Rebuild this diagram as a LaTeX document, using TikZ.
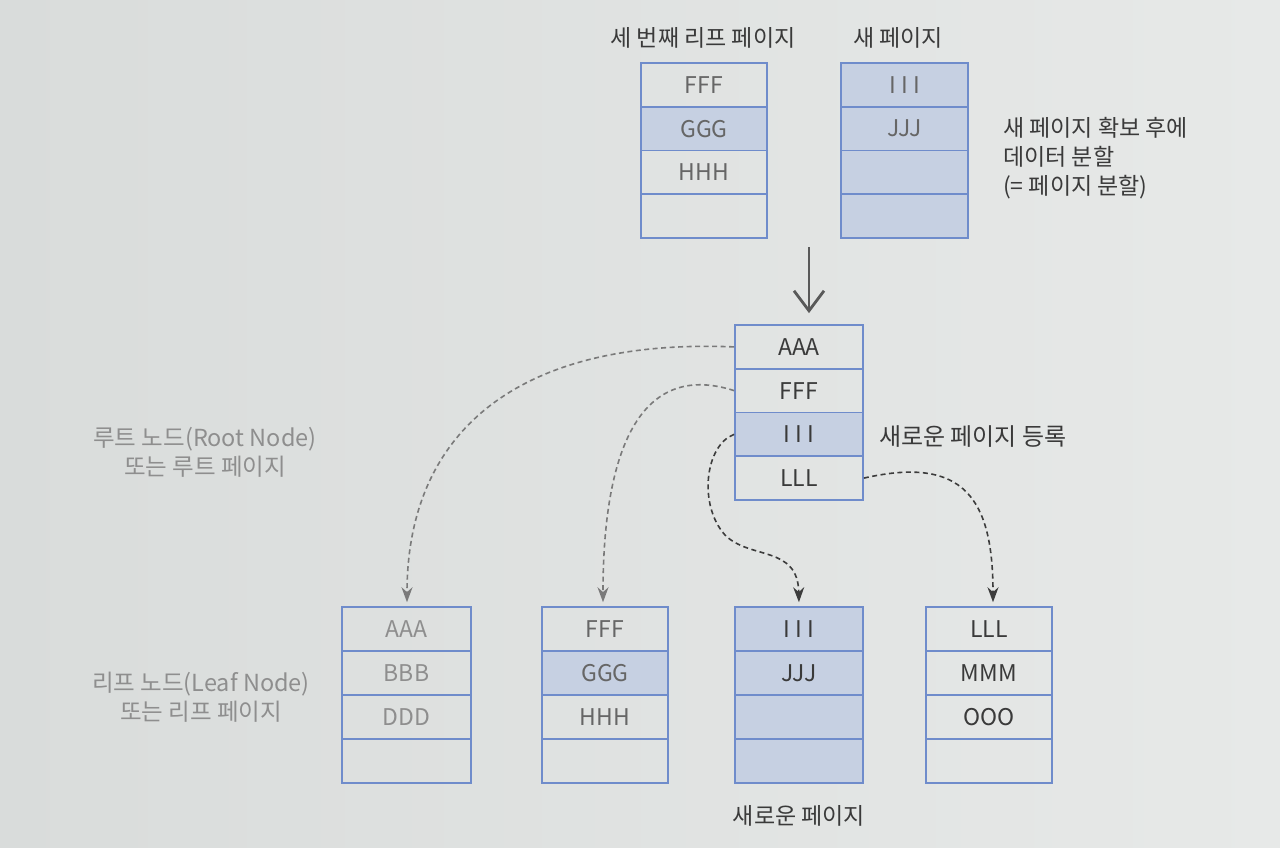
\documentclass[tikz,border=0pt]{standalone}
\usepackage{fontspec}
\setmainfont{Noto Sans CJK KR}
\usetikzlibrary{arrows.meta}
\definecolor{paperL}{HTML}{D9DCDB}
\definecolor{paperR}{HTML}{E7E9E8}
\definecolor{boxline}{HTML}{6F8CCB}
\definecolor{boxfill}{HTML}{C6D0E2}
\definecolor{txtdark}{HTML}{3A3A3A}
\definecolor{txtmid}{HTML}{666666}
\definecolor{txtlight}{HTML}{8E8E8E}
\definecolor{arrdark}{HTML}{3C3C3C}
\definecolor{arrlight}{HTML}{7A7A7A}
\tikzset{
  cell/.style={draw=boxline, line width=1.8pt, minimum height=43.75pt, inner sep=0pt,
    font=\fontsize{23}{26}\selectfont, text=txtmid},
  blue/.style={fill=boxfill},
  lbl/.style={font=\fontsize{23}{29}\selectfont, inner sep=0pt, text=txtdark},
  glbl/.style={font=\fontsize{23.5}{29}\selectfont, inner sep=0pt, text=txtlight, align=center},
  link/.style={line width=1.6pt, dash pattern=on 5pt off 3.5pt, -{Stealth[length=15pt,width=11pt]}, shorten >=4pt},
}
\begin{document}
\begin{tikzpicture}[x=1pt,y=-1pt]
\shade[left color=paperL, right color=paperR] (0,0) rectangle (1280,847);
\useasboundingbox (0,0) rectangle (1280,847);

% top-left box: third leaf page
\node[lbl] (tlT) at (703,38) {세 번째 리프 페이지};
\node[cell, minimum width=126pt] (t1a) at (704,84.9) {FFF};
\node[cell, blue, minimum width=126pt] (t1b) at (704,128.6) {GGG};
\node[cell, minimum width=126pt] (t1c) at (704,172.4) {HHH};
\node[cell, minimum width=126pt] (t1d) at (704,216.1) {};

% top-right box: new page
\node[lbl] (trT) at (898,38) {새 페이지};
\node[cell, blue, minimum width=127pt] (t2a) at (904.5,84.9) {I I I};
\node[cell, blue, minimum width=127pt] (t2b) at (904.5,128.6) {JJJ};
\node[cell, blue, minimum width=127pt] (t2c) at (904.5,172.4) {};
\node[cell, blue, minimum width=127pt] (t2d) at (904.5,216.1) {};

\node[lbl, anchor=west, align=left] (split) at (1003,158) {새 페이지 확보 후에\\데이터 분할\\(= 페이지 분할)};

% root
\node[cell, minimum width=128pt, text=txtdark] (r1) at (799,346.9) {AAA};
\node[cell, minimum width=128pt, text=txtdark] (r2) at (799,390.6) {FFF};
\node[cell, blue, minimum width=128pt, text=txtdark] (r3) at (799,434.4) {I I I};
\node[cell, minimum width=128pt, text=txtdark] (r4) at (799,478.1) {LLL};
\node[lbl, anchor=west, font=\fontsize{24}{29}\selectfont] (reg) at (879,437) {새로운 페이지 등록};

% big arrow
\coordinate (bigS) at (809,247);
\draw[arrdark!85, line width=2.8pt, -{Straight Barb[length=20pt,width=30pt,line width=2.8pt]}] (bigS) -- ([xshift=10pt,yshift=11pt]r1.north);

% left labels
\node[glbl] (rootL) at (205,452) {루트 노드(Root Node)\\또는 루트 페이지};
\node[glbl] (leafL) at (201,697) {리프 노드(Leaf Node)\\또는 리프 페이지};

% leaf boxes
\node[cell, minimum width=129pt, text=txtlight] (b1a) at (406.5,629) {AAA};
\node[cell, minimum width=129pt, text=txtlight] (b1b) at (406.5,673) {BBB};
\node[cell, minimum width=129pt, text=txtlight] (b1c) at (406.5,717) {DDD};
\node[cell, minimum width=129pt] (b1d) at (406.5,761) {};

\node[cell, minimum width=126pt] (b2a) at (605,629) {FFF};
\node[cell, blue, minimum width=126pt] (b2b) at (605,673) {GGG};
\node[cell, minimum width=126pt] (b2c) at (605,717) {HHH};
\node[cell, minimum width=126pt] (b2d) at (605,761) {};

\node[cell, blue, minimum width=128pt, text=txtdark] (b3a) at (799,629) {I I I};
\node[cell, blue, minimum width=128pt, text=txtdark] (b3b) at (799,673) {JJJ};
\node[cell, blue, minimum width=128pt] (b3c) at (799,717) {};
\node[cell, blue, minimum width=128pt] (b3d) at (799,761) {};
\node[lbl] (newp) at (799,816) {새로운 페이지};

\node[cell, minimum width=126pt, text=txtdark] (b4a) at (989,629) {LLL};
\node[cell, minimum width=126pt, text=txtdark] (b4b) at (989,673) {MMM};
\node[cell, minimum width=126pt, text=txtdark] (b4c) at (989,717) {OOO};
\node[cell, minimum width=126pt] (b4d) at (989,761) {};

% dashed links
\draw[link, arrlight] (r1.west) .. controls (520,338) and (407,430) .. ([xshift=0.5pt]b1a.north);
\draw[link, arrlight] (r2.west) .. controls (645,362) and (603,440) .. ([xshift=-2pt]b2a.north);
\draw[link, arrdark] (r3.west) .. controls (705,445) and (698,505) .. (725,535)
   .. controls (750,560) and (798,545) .. (b3a.north);
\draw[link, arrdark] (r4.east) .. controls (965,455) and (993,500) .. ([xshift=4pt]b4a.north);
\end{tikzpicture}
\end{document}
